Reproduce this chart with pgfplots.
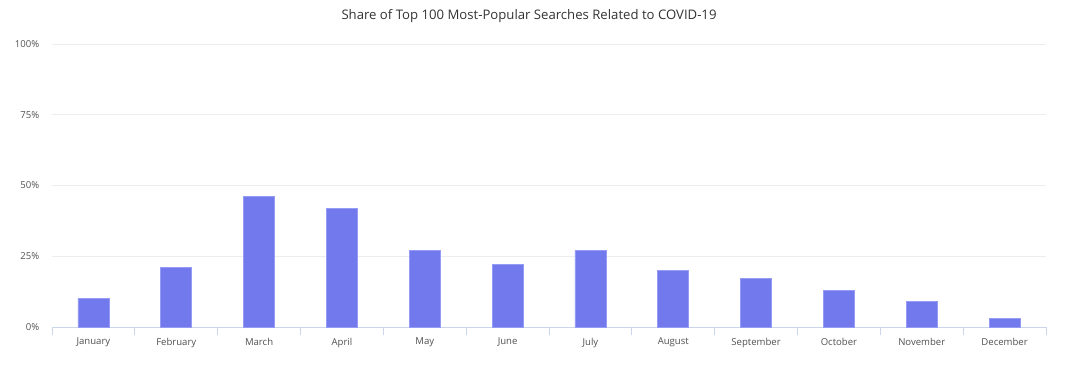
\documentclass[border=0pt]{standalone}
\usepackage{fontspec}
\setmainfont{Open Sans}
\usepackage{pgfplots}
\pgfplotsset{compat=1.18}
\definecolor{barfill}{RGB}{114,121,237}
\definecolor{baredge}{RGB}{150,156,244}
\definecolor{gridc}{RGB}{236,236,241}
\definecolor{axisc}{RGB}{204,214,235}
\definecolor{labc}{RGB}{80,80,80}
\definecolor{titc}{RGB}{51,51,51}
\begin{document}
\begin{tikzpicture}[x=1bp,y=1bp]
\path[use as bounding box] (0,0) rectangle (1069,367);
\begin{axis}[
  at={(52bp,40bp)}, anchor=south west,
  scale only axis, width=994bp, height=283bp,
  xmin=-0.5, xmax=11.5, ymin=0, ymax=100,
  axis x line*=bottom, axis y line*=left,
  x axis line style={draw=axisc, line width=0.8pt, -},
  y axis line style={draw=none},
  xtick=data,
  xticklabels={January,February,March,April,May,June,July,August,September,October,November,December},
  xtick style={draw=axisc, line width=0.8pt},
  major x tick style={draw=none},
  tick align=outside,
  extra x ticks={-0.5,0.5,1.5,2.5,3.5,4.5,5.5,6.5,7.5,8.5,9.5,10.5,11.5},
  extra x tick labels={},
  extra x tick style={major x tick style={draw=axisc, line width=0.8pt}, major tick length=8bp, grid=none},
  ytick={0,25,50,75,100},
  yticklabel={\pgfmathprintnumber{\tick}\%},
  ymajorgrids, grid style={draw=gridc, line width=0.8pt},
  ytick style={draw=none},
  /pgf/number format/assume math mode=true,
  ticklabel style={font=\fontsize{9.6}{11}\selectfont, text=labc},
  xticklabel style={yshift=-3bp},
  yticklabel style={xshift=-5bp},
  ]
\addplot[ybar, bar width=31bp, fill=barfill, draw=baredge, line width=0.8pt]
  coordinates {(0,10) (1,21) (2,46) (3,42) (4,27) (5,22) (6,27) (7,20) (8,17) (9,13) (10,9) (11,3)};
\end{axis}
\node[text=titc, font=\fontsize{13.2}{15}\selectfont] at (529,351) {Share of Top 100 Most-Popular Searches Related to COVID-19};
\end{tikzpicture}
\end{document}
